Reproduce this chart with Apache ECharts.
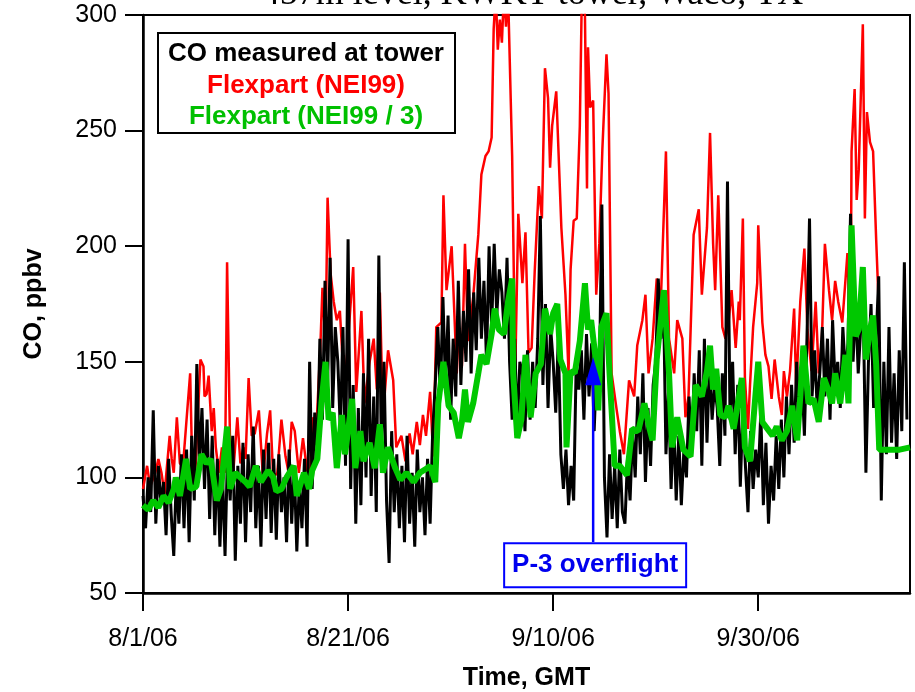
<!DOCTYPE html>
<html><head><meta charset="utf-8">
<script src="https://cdn.jsdelivr.net/npm/echarts@6/dist/echarts.min.js"></script>
<style>html,body{margin:0;padding:0;background:#fff}#c{width:915px;height:692px}</style>
</head><body><div id="c"></div>
<script>
// ---------- data ----------
const titleText = '457m level, KWKT tower, Waco, TX';
const xTickLabels = ['8/1/06', '8/21/06', '9/10/06', '9/30/06']; // every 20 days from 8/1/06
const yTickValues = [50, 100, 150, 200, 250, 300];
const legendLabels = ['CO measured at tower', 'Flexpart (NEI99)', 'Flexpart (NEI99 / 3)'];

// tower CO, one value every 6 h starting 8/1/06 00:00 GMT
const towerStepDays = 0.25;
const towerCO = [
 92,78,100,85, 129,80,105,88, 98,75,108,84, 66,100,80,110, 78,112,72,118,
 90,149,105,130, 95,125,82,118, 75,108,70,102, 66,112,90,118, 64,105,80,115,
 72,110,85,122, 78,105,70,112, 82,115,76,108, 73,110,85,100, 72,112,80,105,
 68,98,78,108, 70,150,95,128, 110,160,125,185, 140,195,130,165, 150,120,165,105,
 203,95,140,80, 130,88,145,100, 160,92,135,85, 196,110,150,90, 63,120,85,110,
 78,105,72,118, 80,102,70,112, 85,100,75,108, 80,120,140,165, 135,178,140,170,
 125,160,135,185, 140,172,150,190, 145,180,155,195, 160,185,150,200, 165,201,170,190,
 180,160,195,150, 125,160,120,150, 145,120,155,125, 150,130,160,213, 140,175,130,165,
 150,128,160,110, 95,112,88,105, 90,150,138,155, 125,162,135,158, 120,150,140,218,
 100,74,110,82, 105,78,112,85, 80,108,90,120, 100,135,110,145, 98,130,105,140,
 150,186,160,180, 110,137,95,125, 90,118,88,112, 100,135,110,145, 120,155,105,160,
 115,150,125,140, 130,105,145,118, 228,125,150,110, 140,96,130,105, 85,120,95,112,
 100,128,88,115, 80,105,90,118, 95,125,100,135, 110,140,115,150, 125,145,118,160,
 212,135,155,130, 145,165,135,160, 125,168,140,150, 130,165,145,158, 214,150,176,145,
 165,170,102,150, 175,130,160,187, 90,150,110,165, 115,145,108,155, 120,193,125
];

// Flexpart (NEI99): days since 8/1/06 and CO (ppbv)
const nei99Days = [
 0,0.4,0.7,1.2,1.5,1.8,2.1,2.6,2.8,3.0,3.3,3.6,3.9,4.3,4.6,4.8,5.1,5.6,5.9,6.0,
 6.2,6.4,6.7,6.9,7.1,7.4,7.7,8.0,8.2,8.5,8.8,9.2,9.5,9.8,10.0,10.3,10.6,10.9,11.3,11.7,
 12.1,12.4,12.7,13.1,13.5,13.9,14.2,14.5,14.8,15.2,15.6,16.0,16.3,16.6,16.9,17.3,17.5,17.8,18.0,18.3,
 18.6,18.9,19.2,19.6,19.9,20.5,20.8,21.3,21.6,22.1,22.5,22.8,23.1,23.4,23.9,24.4,24.7,25.2,25.6,26.0,
 26.3,26.7,27.0,27.3,27.6,28.0,28.3,28.6,29.1,29.3,29.6,30.1,30.6,30.8,31.1,31.4,31.7,32.2,32.7,33.0,
 33.4,33.7,34.0,34.2,34.4,34.6,34.8,35.0,35.2,35.4,35.6,36.0,36.3,36.6,37.0,37.3,37.6,37.9,38.2,38.6,
 38.9,39.2,39.5,39.7,39.9,40.3,40.8,41.2,41.5,41.7,42.0,42.3,42.6,42.8,43.1,43.3,43.4,43.6,43.9,44.2,
 44.5,44.8,45.2,45.4,45.7,46.2,46.5,46.9,47.4,47.9,48.2,48.7,49.0,49.3,49.7,50.1,50.5,51.0,51.3,51.8,
 52.1,52.6,52.9,53.2,53.7,54.2,54.5,55.0,55.3,55.6,55.8,56.1,56.5,56.8,57.1,57.4,57.8,58.1,58.2,58.5,
 58.7,59.0,59.2,59.5,59.9,60.0,60.4,60.7,61.0,61.3,61.6,62.0,62.3,62.5,62.8,63.1,63.5,63.7,64.1,64.5,
 64.8,65.2,65.6,65.9,66.2,66.5,66.9,67.2,67.5,67.8,68.2,68.7,69.0,69.1,69.4,69.6,69.8,70.2,70.4,70.6,
 70.9,71.2,71.5,71.7,71.8
];
const nei99CO = [
 95,105,96,102,108,102,93,118,108,102,126,106,105,128,145,105,102,151,148,135,
 136,144,120,130,113,102,113,102,193,112,102,126,106,113,108,143,118,119,129,100,
 119,129,100,102,125,109,102,124,120,102,117,103,102,126,120,157,182,157,221,188,
 176,168,172,140,153,191,137,172,132,150,160,138,180,126,155,142,113,118,107,119,
 110,124,114,127,118,137,109,165,167,222,181,200,145,165,148,201,159,178,205,231,
 239,241,247,294,310,285,298,288,310,295,310,239,145,214,184,206,154,156,189,226,
 212,277,264,234,252,267,208,179,145,190,211,212,252,310,300,225,286,260,263,179,
 201,242,283,266,145,129,120,110,142,135,157,168,179,145,160,186,176,241,160,145,
 168,160,126,135,205,216,179,208,249,201,181,222,165,160,167,181,156,176,168,212,
 143,121,140,165,184,209,167,153,148,134,151,135,127,146,135,146,173,138,176,199,
 164,146,176,145,159,201,181,168,185,176,167,197,160,241,268,220,233,296,212,258,
 245,241,203,180,150
];

// Flexpart (NEI99 / 3): days since 8/1/06 and CO (ppbv)
const nei99div3Days = [
 0,0.5,1.0,1.5,2.0,2.5,3.0,3.2,3.6,4.2,4.6,5.2,5.7,6.2,6.6,7.2,7.6,8.2,8.5,9.0,
 9.5,10.0,10.4,11.0,11.5,12.2,12.7,13.0,13.5,14.0,14.7,15.0,15.7,16.2,16.5,17.0,17.4,17.8,18.1,18.5,
 18.9,19.4,19.7,20.4,20.7,21.2,21.5,22.1,22.6,23.1,23.4,23.9,24.6,25.1,25.7,26.4,27.0,27.7,28.0,28.5,
 28.8,29.3,29.8,30.3,30.8,31.1,31.4,31.7,32.2,32.7,33.0,33.5,34.0,34.3,34.7,35.2,35.6,36.0,36.1,36.5,
 36.9,37.3,37.8,38.3,38.8,39.2,39.7,40.0,40.4,40.7,41.2,41.3,41.7,42.1,42.6,43.1,43.4,43.7,44.1,44.4,
 44.7,45.2,45.5,46.0,46.5,47.2,47.7,48.3,48.9,49.4,49.7,50.1,50.8,51.3,51.6,52.1,52.7,53.4,53.9,54.5,
 55.0,55.3,55.6,55.9,56.3,56.8,57.1,57.6,57.9,58.4,58.7,59.2,59.7,60.0,60.4,60.9,61.4,61.8,62.3,62.8,
 63.3,63.8,64.1,64.4,64.9,65.4,65.9,66.4,66.9,67.2,67.5,68.0,68.5,68.8,69.1,69.5,69.8,70.2,70.5,70.9,
 71.2,71.5,71.8,72.8,73.8,74.8
];
const nei99div3CO = [
 88,86,90,87,92,89,95,100,92,108,95,96,110,106,108,90,95,122,95,102,
 100,98,96,105,98,103,100,94,95,100,105,92,102,95,103,108,132,150,125,128,
 104,127,110,134,104,120,107,115,104,123,102,113,104,99,102,98,102,104,105,98,
 132,150,131,128,117,124,138,124,132,145,153,149,162,173,164,162,176,186,145,117,
 125,153,126,145,149,173,162,171,175,151,145,113,146,145,159,184,164,168,153,129,
 165,171,145,105,105,101,121,120,132,121,116,151,181,145,113,126,112,109,140,135,
 146,157,138,147,127,126,131,121,129,143,113,107,134,150,124,121,118,122,116,120,
 131,116,135,157,132,134,124,143,137,132,145,132,153,132,209,161,164,191,151,164,
 170,149,112,112,112,113
];

// P-3 overflight annotation (day since 8/1/06, arrow tip / base in ppbv)
const overflightDay = 43.9;
const overflightTip = 152;
const overflightBase = 72;
const overflightLabel = 'P-3 overflight';

// ---------- chart ----------
const FONT = '"Liberation Sans", Arial, Helvetica, sans-serif';
const pairs = (xs, ys) => xs.map((x, i) => [x, ys[i]]);
const towerData = towerCO.map((v, i) => [i * towerStepDays, v]);

const chart = echarts.init(document.getElementById('c'), null, {renderer: 'canvas'});
chart.setOption({
  animation: false,
  backgroundColor: '#fff',
  grid: {left: 143, right: 5, top: 15, bottom: 99, show: true, borderColor: '#000', borderWidth: 2,
         containLabel: false, outerBoundsMode: 'none'},
  xAxis: {
    type: 'value', min: 0, max: 74.8, interval: 20,
    axisLine: {lineStyle: {color: '#000', width: 2.5}},
    axisTick: {length: 18, lineStyle: {color: '#000', width: 2}},
    axisLabel: {margin: 34, fontSize: 25, color: '#000', fontFamily: FONT, showMaxLabel: false,
      formatter: v => xTickLabels[Math.round(v / 20)] || ''},
    splitLine: {show: false},
    name: 'Time, GMT', nameLocation: 'middle', nameGap: 73,
    nameTextStyle: {fontSize: 25, fontWeight: 'bold', color: '#000', fontFamily: FONT}
  },
  yAxis: {
    type: 'value', min: yTickValues[0], max: yTickValues[yTickValues.length - 1], interval: 50,
    axisLine: {lineStyle: {color: '#000', width: 2.5}},
    axisTick: {length: 18, lineStyle: {color: '#000', width: 2}},
    axisLabel: {margin: 26, fontSize: 25, color: '#000', fontFamily: FONT},
    splitLine: {show: false},
    name: 'CO, ppbv', nameLocation: 'middle', nameGap: 96, nameRotate: 90,
    nameTextStyle: {fontSize: 25, fontWeight: 'bold', color: '#000', fontFamily: FONT}
  },
  series: [
    {name: legendLabels[1], type: 'line', data: pairs(nei99Days, nei99CO), showSymbol: false,
     lineStyle: {color: '#ff0000', width: 2.5}, itemStyle: {color: '#ff0000'}, clip: true},
    {name: legendLabels[0], type: 'line', data: towerData, showSymbol: false,
     lineStyle: {color: '#000000', width: 3}, itemStyle: {color: '#000'}, clip: true},
    {name: legendLabels[2], type: 'line', data: pairs(nei99div3Days, nei99div3CO), showSymbol: false,
     lineStyle: {color: '#00c800', width: 6}, itemStyle: {color: '#00c800'}, clip: true}
  ]
});

const tip = chart.convertToPixel({gridIndex: 0}, [overflightDay, overflightTip]);
const base = chart.convertToPixel({gridIndex: 0}, [overflightDay, overflightBase]);
const plotCenterX = chart.convertToPixel({gridIndex: 0}, [74.8 / 2, 50])[0];

chart.setOption({
  graphic: [
    {type: 'text', x: plotCenterX + 6, y: 13, z: 10,
     style: {text: titleText, font: '36px "Liberation Serif", "Times New Roman", serif', fill: '#000',
       textAlign: 'center', textVerticalAlign: 'bottom'}},
    {type: 'rect', shape: {x: 158, y: 33, width: 297, height: 100}, z: 10,
     style: {fill: '#fff', stroke: '#000', lineWidth: 2}},
    {type: 'text', x: 306, y: 54, z: 11,
     style: {text: legendLabels[0], font: 'bold 26px ' + FONT, fill: '#000', textAlign: 'center', textVerticalAlign: 'middle'}},
    {type: 'text', x: 306, y: 86, z: 11,
     style: {text: legendLabels[1], font: 'bold 26px ' + FONT, fill: '#ff0000', textAlign: 'center', textVerticalAlign: 'middle'}},
    {type: 'text', x: 306, y: 117, z: 11,
     style: {text: legendLabels[2], font: 'bold 26px ' + FONT, fill: '#00c000', textAlign: 'center', textVerticalAlign: 'middle'}},
    {type: 'line', shape: {x1: tip[0], y1: tip[1] + 20, x2: base[0], y2: base[1]}, z: 12,
     style: {stroke: '#0000ff', lineWidth: 2.5}},
    {type: 'polygon', shape: {points: [[tip[0], tip[1]], [tip[0] - 8, tip[1] + 28], [tip[0] + 8, tip[1] + 28]]}, z: 12,
     style: {fill: '#0000ff'}},
    {type: 'rect', shape: {x: base[0] - 89, y: base[1] + 1, width: 182, height: 44}, z: 12,
     style: {fill: '#fff', stroke: '#0000ff', lineWidth: 2}},
    {type: 'text', x: base[0] + 2, y: base[1] + 23, z: 13,
     style: {text: overflightLabel, font: 'bold 26px ' + FONT, fill: '#0000ee', textAlign: 'center', textVerticalAlign: 'middle'}}
  ]
});
</script></body></html>
